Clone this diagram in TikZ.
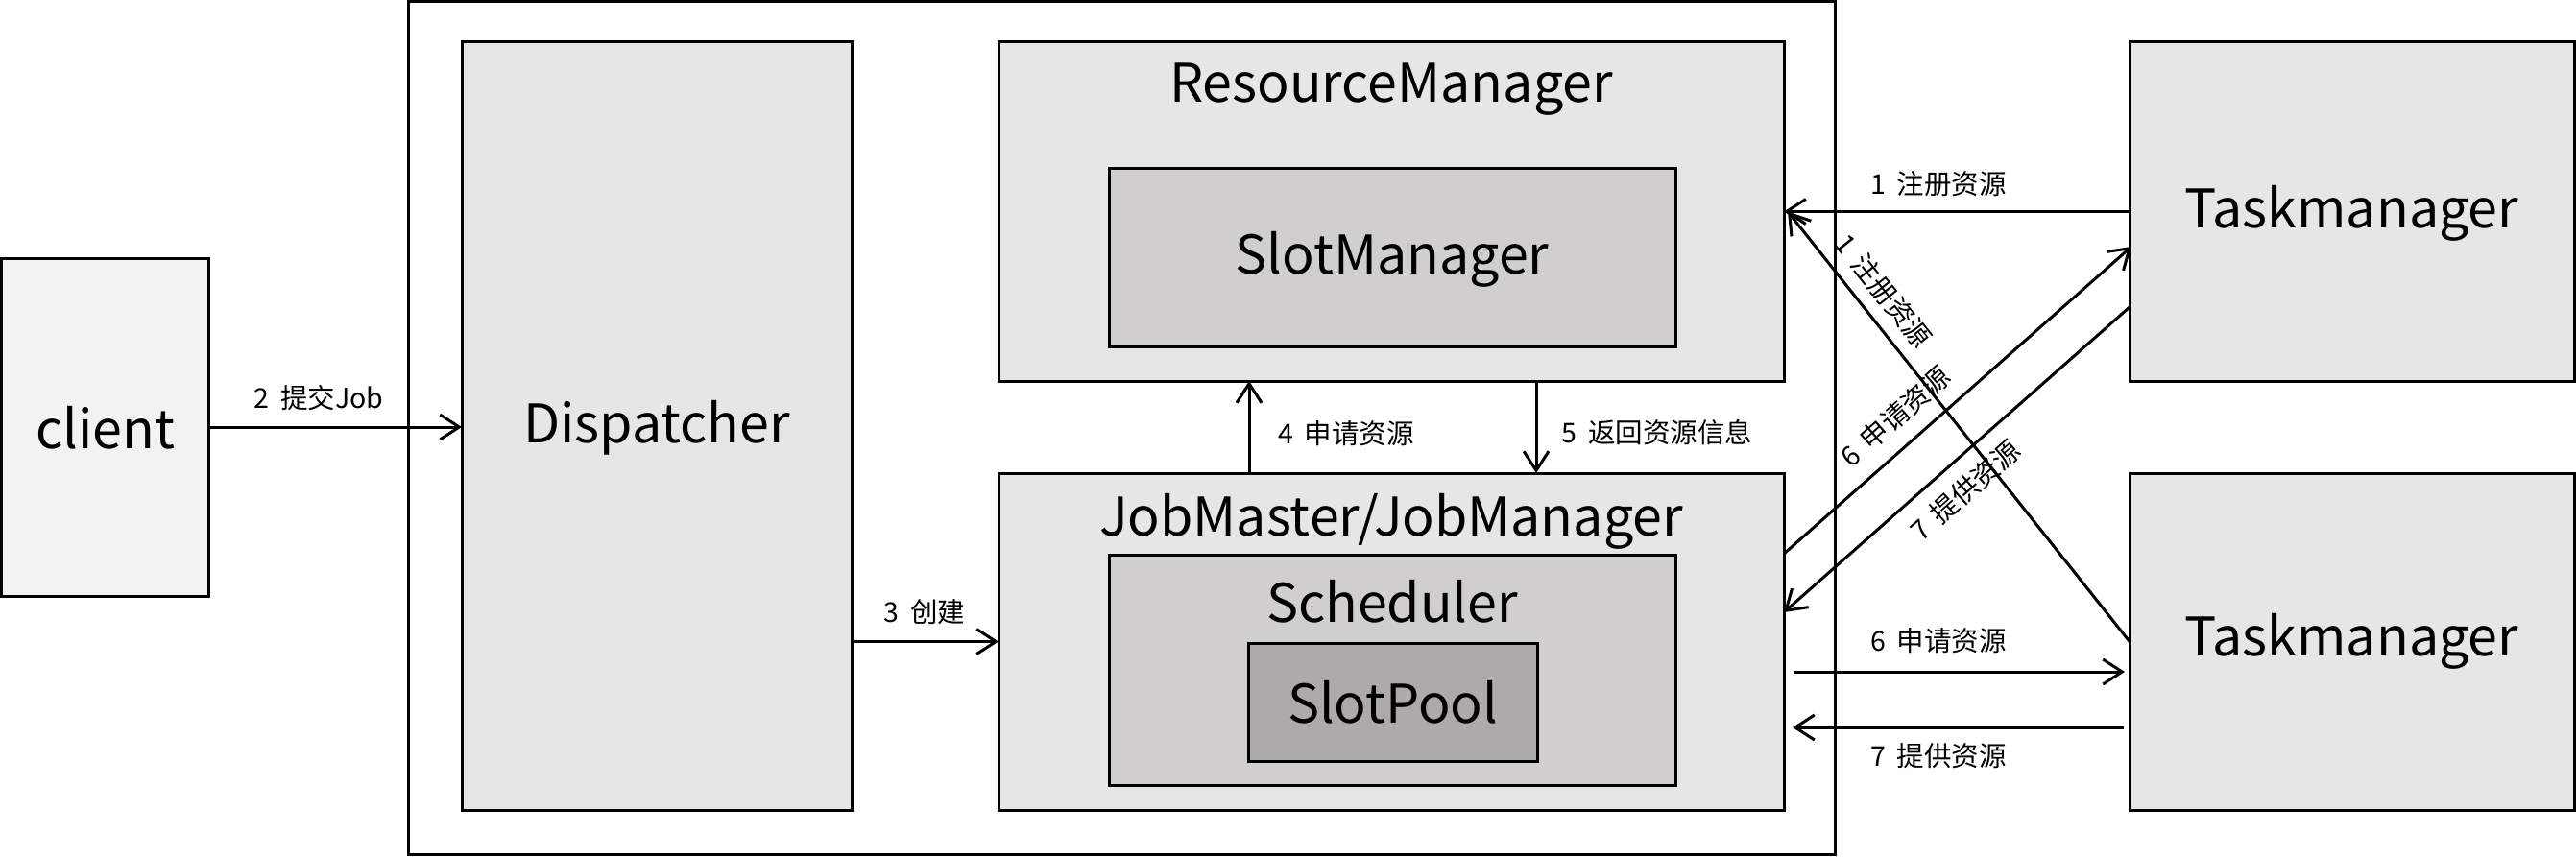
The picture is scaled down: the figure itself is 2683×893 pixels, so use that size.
\documentclass[tikz,border=0pt]{standalone}
\usepackage{fontspec}
\setmainfont{Noto Sans CJK SC}
\usetikzlibrary{arrows.meta,calc}
\definecolor{cl}{HTML}{F2F2F2}
\definecolor{gl}{HTML}{E6E6E6}
\definecolor{gm}{HTML}{D0CECE}
\definecolor{gd}{HTML}{AEAAAA}
\newcommand{\lsp}{\hspace{0.4em}}
\begin{document}
\begin{tikzpicture}[x=1bp,y=-1bp,
  box/.style={draw=black,line width=3bp,rectangle,inner sep=0pt,outer sep=0pt},
  big/.style={font=\fontsize{55.5bp}{58bp}\selectfont,inner sep=0pt},
  lbl/.style={font=\fontsize{28.5bp}{30bp}\selectfont,inner sep=0pt},
  arr/.style={line width=3bp,-{Straight Barb[length=20bp,width=26bp,line width=3bp]}}]
\useasboundingbox (0,0) rectangle (2683,893);
% boxes
\node[box,fill=white,minimum width=1485bp,minimum height=888bp] (outer) at (1168.5,446) {};
\node[box,fill=cl,minimum width=215bp,minimum height=352bp] (client) at (109.5,445) {};
\node[box,fill=gl,minimum width=406bp,minimum height=800bp] (disp) at (684,444) {};
\node[box,fill=gl,minimum width=818bp,minimum height=353bp] (rm) at (1449,220.5) {};
\node[box,fill=gm,minimum width=590bp,minimum height=186bp] (sm) at (1450,268) {};
\node[box,fill=gl,minimum width=818bp,minimum height=351bp] (jm) at (1449,668.5) {};
\node[box,fill=gm,minimum width=590bp,minimum height=240bp] (sch) at (1450,698) {};
\node[box,fill=gd,minimum width=301bp,minimum height=123bp] (sp) at (1450.5,731.5) {};
\node[box,fill=gl,minimum width=463bp,minimum height=353bp] (tm1) at (2449.5,220.5) {};
\node[box,fill=gl,minimum width=463bp,minimum height=351bp] (tm2) at (2449.5,668.5) {};
% texts
\node[big] (tclient) at (109.5,446) {client};
\node[big] (tdisp) at (684,446) {Dispatcher};
\node[big] (trm) at (1449,93) {ResourceManager};
\node[big] (tsm) at (1450,270) {SlotManager};
\node[big] (tjm) at (1449,543) {JobMaster/JobManager};
\node[big] (tsch) at (1450,627) {Scheduler};
\node[big] (tsp) at (1450.5,732) {SlotPool};
\node[big] (ttm1) at (2449.5,222) {Taskmanager};
\node[big] (ttm2) at (2449.5,668) {Taskmanager};
% connectors
\coordinate (rmtip) at ($(rm.east)+(4,0)$);
\coordinate (j6) at ($(jm.north east)+(0,84)$);
\coordinate (t6) at ($(tm1.north west)+(2,213)$);
\coordinate (t7) at ($(tm1.north west)+(0,276)$);
\coordinate (j7) at ($(jm.north east)+(0,145)$);
\coordinate (h6s) at ($(jm.north east)+(10,207)$);
\coordinate (h6e) at ($(tm2.north west)+(-5,207)$);
\coordinate (h7s) at ($(tm2.north west)+(-6,265)$);
\coordinate (h7e) at ($(jm.north east)+(9,265)$);
\draw[arr] (client.east) -- (client.east -| disp.west);
\draw[arr] (jm.west -| disp.east) -- (jm.west);
\draw[arr] ($(jm.north west)+(261,0)$) -- ($(rm.south west)+(261,0)$);
\draw[arr] ($(rm.south west)+(560,0)$) -- ($(jm.north west)+(560,0)$);
\draw[arr] (tm1.west) -- (tm1.west -| rm.east);
\draw[arr] (tm2.west) -- (rmtip);
\draw[arr] (j6) -- (t6);
\draw[arr] (t7) -- (j7);
\draw[arr] (h6s) -- (h6e);
\draw[arr] (h7s) -- (h7e);
% labels
\node[lbl] (l2) at (332,415) {2\lsp 提交Job};
\node[lbl] (l3) at (963,638) {3\lsp 创建};
\node[lbl] (l4) at (1402,452) {4\lsp 申请资源};
\node[lbl] (l5) at (1726,451) {5\lsp 返回资源信息};
\node[lbl] (l1h) at (2019,192) {1\lsp 注册资源};
\node[lbl] (l6h) at (2019,668) {6\lsp 申请资源};
\node[lbl] (l7h) at (2019,788) {7\lsp 提供资源};
\node[lbl,rotate=-51.5] (l1d) at (1962,303) {1\lsp 注册资源};
\node[lbl,rotate=41.5] (l6d) at (1974,434) {6\lsp 申请资源};
\node[lbl,rotate=41.6] (l7d) at (2047,511) {7\lsp 提供资源};
\end{tikzpicture}
\end{document}
